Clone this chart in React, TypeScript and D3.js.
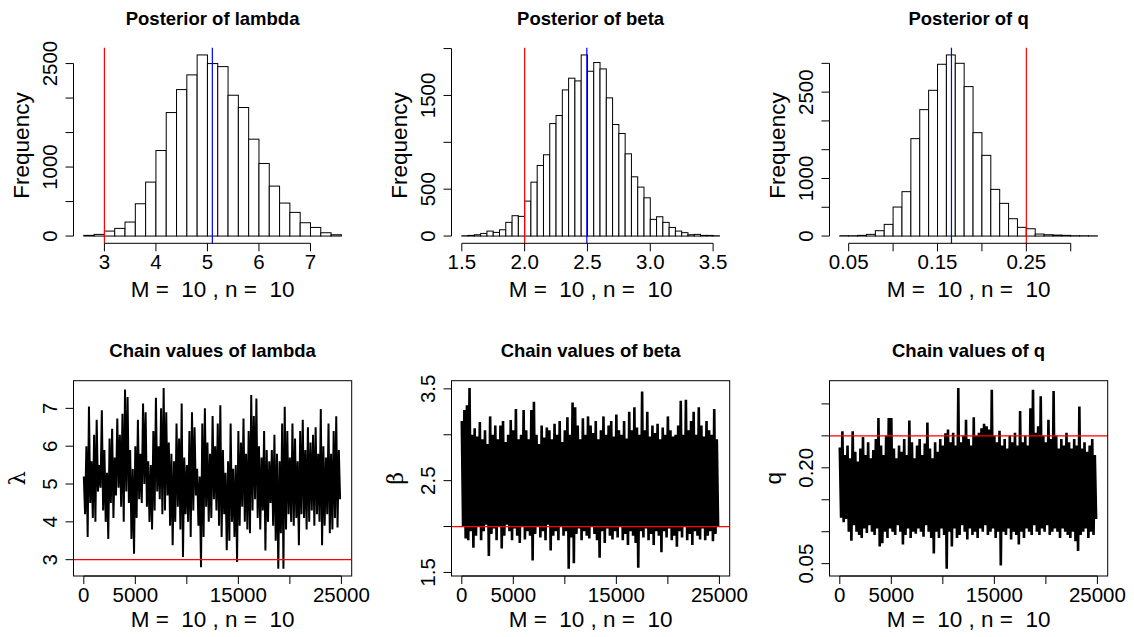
import React from 'react';
import * as d3 from 'd3';

// ---------- Histogram data ----------
const lambdaBreakStart = 2.6;
const lambdaBreakWidth = 0.2;
const lambdaCounts = [10, 24, 72, 111, 203, 468, 782, 1240, 1790, 2123, 2336, 2625, 2500, 2456, 2041, 1863, 1404, 1052, 724, 478, 343, 193, 125, 48, 19];

const betaBreakStart = 1.5;
const betaBreakWidth = 0.05;
const betaCounts = [3, 7, 14, 28, 53, 39, 67, 146, 217, 210, 373, 575, 753, 867, 1200, 1286, 1559, 1684, 1655, 1932, 1758, 1851, 1783, 1474, 1190, 1094, 877, 632, 522, 408, 178, 206, 146, 92, 53, 36, 14, 18, 7, 7, 3];

const qBreakStart = 0.04;
const qBreakWidth = 0.01;
const qCounts = [6, 6, 12, 29, 93, 203, 504, 771, 1692, 2196, 2532, 2984, 3146, 3001, 2596, 1796, 1402, 811, 568, 301, 151, 127, 35, 23, 17, 12, 6, 5, 4];

// true values (red) and posterior means (blue)
const trueValues = [3, 2, 0.25];
const posteriorMeans = [5.095, 2.495, 0.1657];

// axis ticks
const lambdaHistXTicks = [3, 4, 5, 6, 7];
const lambdaHistXLabels = ['3', '4', '5', '6', '7'];
const lambdaHistYTicks = [0, 500, 1000, 1500, 2000, 2500];
const lambdaHistYLabels = ['0', '', '1000', '', '', '2500'];

const betaHistXTicks = [1.5, 2.0, 2.5, 3.0, 3.5];
const betaHistXLabels = ['1.5', '2.0', '2.5', '3.0', '3.5'];
const betaHistYTicks = [0, 500, 1000, 1500, 2000];
const betaHistYLabels = ['0', '500', '', '1500', ''];

const qHistXTicks = [0.05, 0.1, 0.15, 0.2, 0.25, 0.3];
const qHistXLabels = ['0.05', '', '0.15', '', '0.25', ''];
const qHistYTicks = [0, 500, 1000, 1500, 2000, 2500, 3000];
const qHistYLabels = ['0', '', '1000', '', '', '2500', ''];

const iterTicks = [0, 5000, 10000, 15000, 20000, 25000];
const iterLabels = ['0', '5000', '', '15000', '', '25000'];

const lambdaTraceYTicks = [3, 4, 5, 6, 7];
const lambdaTraceYLabels = ['3', '4', '5', '6', '7'];
const betaTraceYTicks = [1.5, 2.0, 2.5, 3.0, 3.5];
const betaTraceYLabels = ['1.5', '', '2.5', '', '3.5'];
const qTraceYTicks = [0.05, 0.1, 0.15, 0.2, 0.25, 0.3];
const qTraceYLabels = ['0.05', '', '', '0.20', '', ''];

// ---------- Trace data: per 250-iteration block, local max and min ----------
const blockSize = 250;

const lambdaHigh = [
  5.2, 6.0, 7.05, 5.6, 6.3, 6.7, 5.5, 6.95, 5.9, 5.3,
  6.2, 6.46, 5.7, 6.73, 6.3, 6.86, 7.5, 7.3, 5.9, 5.4,
  6.0, 6.7, 5.8, 7.13, 6.9, 5.6, 5.5, 6.4, 7.28, 6.0,
  7.0, 7.54, 6.9, 6.1, 5.8, 5.6, 6.6, 6.2, 7.13, 5.7,
  5.5, 6.4, 6.9, 6.5, 5.4, 5.2, 6.6, 7.0, 6.1, 5.8,
  6.8, 6.0, 6.6, 7.08, 5.9, 5.3, 5.6, 6.6, 5.4, 5.5,
  6.4, 6.1, 6.73, 5.8, 6.4, 7.35, 6.8, 7.26, 6.0, 5.7,
  6.4, 5.9, 5.6, 5.9, 6.3, 5.8, 5.6, 6.6, 7.04, 6.4,
  5.7, 6.6, 6.2, 5.6, 6.4, 6.7, 5.9, 6.5, 6.1, 6.3,
  6.5, 5.8, 6.98, 6.0, 5.7, 6.6, 5.8, 6.4, 6.79, 5.9,
];
const lambdaLow = [
  4.2, 3.6, 4.5, 4.1, 4.0, 4.8, 4.9, 4.3, 4.0, 3.55,
  4.5, 4.1, 4.7, 4.9, 4.4, 4.0, 4.8, 4.5, 3.55, 3.16,
  4.1, 4.6, 4.5, 5.0, 4.4, 4.0, 3.8, 4.3, 4.8, 4.6,
  4.2, 4.3, 4.7, 3.9, 3.38, 4.0, 4.4, 3.8, 3.07, 4.2,
  4.0, 3.6, 4.3, 4.7, 3.9, 2.8, 3.6, 4.4, 4.0, 4.1,
  4.6, 4.3, 3.9, 3.6, 4.2, 3.25, 3.5, 4.0, 3.6, 2.94,
  3.9, 4.4, 4.0, 3.8, 3.7, 4.3, 4.6, 4.1, 3.8, 4.3,
  3.24, 4.0, 4.5, 3.9, 3.5, 2.76, 3.7, 2.76, 3.8, 4.2,
  4.0, 3.9, 4.1, 3.38, 4.2, 4.1, 3.8, 4.0, 4.3, 3.9,
  4.2, 4.0, 3.38, 3.9, 4.2, 3.7, 3.8, 4.1, 3.85, 4.6,
];

const betaHigh = [
  3.15, 3.27, 3.32, 3.51, 3.0, 3.07, 2.98, 3.14, 2.95, 3.05,
  2.9, 3.2, 3.0, 3.1, 2.95, 3.1, 3.15, 2.92, 3.0, 3.16,
  3.05, 3.28, 2.95, 3.0, 3.27, 3.05, 2.95, 3.27, 3.36, 3.0,
  2.9, 3.1, 2.97, 3.08, 3.05, 2.95, 3.12, 3.0, 3.15, 2.92,
  3.05, 3.19, 3.0, 3.35, 3.3, 3.1, 2.95, 3.18, 3.0, 3.2,
  3.1, 3.02, 3.15, 2.95, 3.05, 3.2, 3.0, 3.1, 3.15, 2.98,
  3.22, 3.05, 3.0, 3.15, 2.96, 3.25, 3.05, 3.3, 3.08, 3.0,
  3.47, 3.05, 3.25, 2.98, 3.1, 3.02, 3.12, 2.95, 3.08, 3.0,
  3.2, 3.05, 2.98, 3.0, 3.1, 3.37, 3.0, 3.38, 3.05, 3.15,
  3.25, 3.0, 3.3, 3.1, 2.98, 3.15, 3.05, 3.0, 3.28, 2.95,
];
const betaLow = [
  2.0, 1.87, 1.85, 1.95, 1.77, 1.9, 2.0, 1.85, 1.95, 2.02,
  1.68, 1.92, 1.98, 1.85, 2.0, 1.76, 1.9, 2.02, 1.95, 1.85,
  1.98, 1.9, 1.82, 2.0, 1.86, 1.95, 1.9, 1.63, 1.92, 2.0,
  1.88, 1.95, 1.85, 2.02, 1.74, 1.9, 1.95, 1.85, 2.0, 1.9,
  1.95, 1.54, 1.88, 1.6, 1.92, 1.98, 1.85, 1.95, 1.9, 1.87,
  2.0, 1.92, 1.85, 1.66, 1.95, 1.82, 1.98, 1.9, 1.86, 1.95,
  1.88, 2.0, 1.85, 1.92, 1.8, 1.95, 1.9, 1.82, 1.55, 1.95,
  1.88, 1.98, 1.85, 1.92, 1.8, 1.95, 1.9, 1.72, 1.95, 1.88,
  1.98, 1.85, 1.9, 1.78, 1.95, 1.88, 2.0, 1.85, 1.92, 1.8,
  1.95, 1.9, 1.86, 1.98, 1.85, 1.9, 1.95, 1.84, 1.92, 2.0,
];

const qHigh = [
  0.232, 0.257, 0.22, 0.235, 0.215, 0.257, 0.225, 0.21, 0.23, 0.248,
  0.22, 0.24, 0.215, 0.228, 0.245, 0.278, 0.235, 0.22, 0.25, 0.278,
  0.278, 0.23, 0.215, 0.235, 0.225, 0.245, 0.22, 0.274, 0.24, 0.215,
  0.235, 0.245, 0.22, 0.238, 0.271, 0.23, 0.215, 0.24, 0.225, 0.245,
  0.235, 0.254, 0.26, 0.24, 0.255, 0.235, 0.325, 0.24, 0.25, 0.275,
  0.245, 0.235, 0.279, 0.25, 0.255, 0.262, 0.269, 0.265, 0.26, 0.322,
  0.25, 0.24, 0.258, 0.235, 0.245, 0.23, 0.25, 0.24, 0.255, 0.235,
  0.289, 0.24, 0.25, 0.235, 0.293, 0.322, 0.255, 0.265, 0.312, 0.25,
  0.24, 0.275, 0.245, 0.32, 0.25, 0.23, 0.245, 0.235, 0.255, 0.24,
  0.23, 0.245, 0.235, 0.296, 0.23, 0.24, 0.225, 0.235, 0.245, 0.22,
];
const qLow = [
  0.122, 0.115, 0.12, 0.1, 0.086, 0.11, 0.1, 0.095, 0.09, 0.105,
  0.098, 0.11, 0.1, 0.095, 0.105, 0.077, 0.082, 0.1, 0.09, 0.105,
  0.1, 0.095, 0.11, 0.1, 0.08, 0.095, 0.105, 0.09, 0.1, 0.097,
  0.105, 0.1, 0.092, 0.11, 0.1, 0.09, 0.066, 0.1, 0.09, 0.105,
  0.095, 0.042, 0.1, 0.077, 0.105, 0.09, 0.095, 0.11, 0.1, 0.088,
  0.105, 0.095, 0.1, 0.09, 0.105, 0.1, 0.11, 0.095, 0.1, 0.105,
  0.09, 0.1, 0.047, 0.1, 0.095, 0.105, 0.088, 0.1, 0.095, 0.08,
  0.1, 0.09, 0.105, 0.1, 0.095, 0.11, 0.1, 0.095, 0.105, 0.1,
  0.11, 0.095, 0.1, 0.105, 0.1, 0.09, 0.105, 0.1, 0.095, 0.09,
  0.1, 0.085, 0.07, 0.095, 0.1, 0.105, 0.09, 0.1, 0.095, 0.12,
];

// ---------- layout ----------
const W = 1134;
const H = 637;
const colOffsets = [0, 378, 756];
const plotL = 73.5;
const plotR = 351.7;
const rowTop = [47.7, 380.7];
const rowBottom = [243.3, 576];
const titleBase = [25, 356.7];
const xlabBase = [296.7, 626.7];
const FONT = '"Liberation Sans", Arial, Helvetica, sans-serif';
const tickFont = 20.5;
const labFont = 22.5;
const titleFont = 18.5;
const tickLen = 8;
const xlabText = 'M =  10 , n =  10';
const traceWidths = [2.0, 2.6, 2.6];

type AxisProps = {
  ticks: number[];
  labels: string[];
  scale: (v: number) => number;
};

function XAxis({ ticks, labels, scale, y }: AxisProps & { y: number }) {
  const x0 = scale(ticks[0]);
  const x1 = scale(ticks[ticks.length - 1]);
  return (
    <g>
      <line x1={x0} x2={x1} y1={y} y2={y} stroke="#000" strokeWidth={1} />
      {ticks.map((t, i) => (
        <g key={i}>
          <line x1={scale(t)} x2={scale(t)} y1={y} y2={y + tickLen} stroke="#000" strokeWidth={1} />
          {labels[i] ? (
            <text x={scale(t)} y={y + 26} textAnchor="middle" fontSize={tickFont} fontFamily={FONT}>
              {labels[i]}
            </text>
          ) : null}
        </g>
      ))}
    </g>
  );
}

function YAxis({ ticks, labels, scale, x, labelX }: AxisProps & { x: number; labelX: number }) {
  const y0 = scale(ticks[0]);
  const y1 = scale(ticks[ticks.length - 1]);
  return (
    <g>
      <line x1={x} x2={x} y1={y0} y2={y1} stroke="#000" strokeWidth={1} />
      {ticks.map((t, i) => (
        <g key={i}>
          <line x1={x - tickLen} x2={x} y1={scale(t)} y2={scale(t)} stroke="#000" strokeWidth={1} />
          {labels[i] ? (
            <text
              transform={`translate(${labelX},${scale(t)}) rotate(-90)`}
              textAnchor="middle"
              fontSize={tickFont}
              fontFamily={FONT}
            >
              {labels[i]}
            </text>
          ) : null}
        </g>
      ))}
    </g>
  );
}

type HistProps = {
  col: number;
  title: string;
  start: number;
  width: number;
  counts: number[];
  xTicks: number[];
  xLabels: string[];
  yTicks: number[];
  yLabels: string[];
  red: number;
  blue: number;
};

function Histogram(p: HistProps) {
  const off = colOffsets[p.col];
  const top = rowTop[0];
  const bottom = rowBottom[0];
  const end = p.start + p.width * p.counts.length;
  const xr = end - p.start;
  const x = d3.scaleLinear().domain([p.start - 0.04 * xr, end + 0.04 * xr]).range([off + plotL, off + plotR]);
  const maxC = d3.max(p.counts) as number;
  const y = d3.scaleLinear().domain([-0.04 * maxC, maxC * 1.04]).range([bottom, top]);
  const cx = off + (plotL + plotR) / 2;
  return (
    <g>
      <text x={cx} y={titleBase[0]} textAnchor="middle" fontWeight="bold" fontSize={titleFont} fontFamily={FONT}>
        {p.title}
      </text>
      {p.counts.map((c, i) => {
        const x0 = x(p.start + i * p.width);
        const x1 = x(p.start + (i + 1) * p.width);
        return (
          <rect
            key={i}
            x={x0}
            y={y(c)}
            width={x1 - x0}
            height={y(0) - y(c)}
            fill="#fff"
            stroke="#000"
            strokeWidth={1}
          />
        );
      })}
      <line x1={x(p.red)} x2={x(p.red)} y1={top} y2={bottom} stroke="#ff0000" strokeWidth={1.2} />
      <line x1={x(p.blue)} x2={x(p.blue)} y1={top} y2={bottom} stroke="#0000ff" strokeWidth={1.2} />
      <XAxis ticks={p.xTicks} labels={p.xLabels} scale={x} y={bottom} />
      <YAxis ticks={p.yTicks} labels={p.yLabels} scale={y} x={off + plotL} labelX={off + 56.5} />
      <text
        transform={`translate(${off + 29.3},${(top + bottom) / 2}) rotate(-90)`}
        textAnchor="middle"
        fontSize={labFont}
        fontFamily={FONT}
      >
        Frequency
      </text>
      <text
        x={cx}
        y={xlabBase[0]}
        textAnchor="middle"
        fontSize={labFont}
        fontFamily={FONT}
        style={{ whiteSpace: 'pre' }}
      >
        {xlabText}
      </text>
    </g>
  );
}

type TraceProps = {
  col: number;
  title: string;
  high: number[];
  low: number[];
  yTicks: number[];
  yLabels: string[];
  red: number;
  ylab: string;
  ylabSerif: boolean;
};

function Trace(p: TraceProps) {
  const off = colOffsets[p.col];
  const top = rowTop[1];
  const bottom = rowBottom[1];
  const n = p.high.length * blockSize;
  const x = d3.scaleLinear().domain([-0.04 * n, n * 1.04]).range([off + plotL, off + plotR]);
  const lo = d3.min(p.low) as number;
  const hi = d3.max(p.high) as number;
  const r = hi - lo;
  const y = d3.scaleLinear().domain([lo - 0.04 * r, hi + 0.04 * r]).range([bottom, top]);
  const pts: [number, number][] = [];
  p.high.forEach((h, i) => {
    pts.push([i * blockSize, h]);
    pts.push([i * blockSize + blockSize / 2, p.low[i]]);
  });
  const line = d3
    .line<[number, number]>()
    .x((d) => x(d[0]))
    .y((d) => y(d[1]));
  const cx = off + (plotL + plotR) / 2;
  return (
    <g>
      <text x={cx} y={titleBase[1]} textAnchor="middle" fontWeight="bold" fontSize={titleFont} fontFamily={FONT}>
        {p.title}
      </text>
      <path
        d={line(pts) || ''}
        fill="none"
        stroke="#000"
        strokeWidth={traceWidths[p.col]}
        strokeLinejoin="bevel"
      />
      <line x1={off + plotL} x2={off + plotR} y1={y(p.red)} y2={y(p.red)} stroke="#ff0000" strokeWidth={1.2} />
      <rect x={off + plotL} y={top} width={plotR - plotL} height={bottom - top} fill="none" stroke="#000" strokeWidth={1} />
      <XAxis ticks={iterTicks} labels={iterLabels} scale={x} y={bottom} />
      <YAxis ticks={p.yTicks} labels={p.yLabels} scale={y} x={off + plotL} labelX={off + 56.5} />
      <text
        transform={`translate(${off + 24.5},${(top + bottom) / 2}) rotate(-90)`}
        textAnchor="middle"
        fontSize={labFont}
        fontFamily={p.ylabSerif ? '"DejaVu Serif", "Liberation Serif", serif' : FONT}
      >
        {p.ylab}
      </text>
      <text
        x={cx}
        y={xlabBase[1]}
        textAnchor="middle"
        fontSize={labFont}
        fontFamily={FONT}
        style={{ whiteSpace: 'pre' }}
      >
        {xlabText}
      </text>
    </g>
  );
}

export default function App() {
  return (
    <svg
      width={W}
      height={H}
      viewBox={`0 0 ${W} ${H}`}
      style={{ position: 'absolute', left: 0, top: 0, background: '#fff' }}
    >
      <rect x={0} y={0} width={W} height={H} fill="#fff" />
      <Histogram
        col={0}
        title="Posterior of lambda"
        start={lambdaBreakStart}
        width={lambdaBreakWidth}
        counts={lambdaCounts}
        xTicks={lambdaHistXTicks}
        xLabels={lambdaHistXLabels}
        yTicks={lambdaHistYTicks}
        yLabels={lambdaHistYLabels}
        red={trueValues[0]}
        blue={posteriorMeans[0]}
      />
      <Histogram
        col={1}
        title="Posterior of beta"
        start={betaBreakStart}
        width={betaBreakWidth}
        counts={betaCounts}
        xTicks={betaHistXTicks}
        xLabels={betaHistXLabels}
        yTicks={betaHistYTicks}
        yLabels={betaHistYLabels}
        red={trueValues[1]}
        blue={posteriorMeans[1]}
      />
      <Histogram
        col={2}
        title="Posterior of q"
        start={qBreakStart}
        width={qBreakWidth}
        counts={qCounts}
        xTicks={qHistXTicks}
        xLabels={qHistXLabels}
        yTicks={qHistYTicks}
        yLabels={qHistYLabels}
        red={trueValues[2]}
        blue={posteriorMeans[2]}
      />
      <Trace
        col={0}
        title="Chain values of lambda"
        high={lambdaHigh}
        low={lambdaLow}
        yTicks={lambdaTraceYTicks}
        yLabels={lambdaTraceYLabels}
        red={trueValues[0]}
        ylab="λ"
        ylabSerif={true}
      />
      <Trace
        col={1}
        title="Chain values of beta"
        high={betaHigh}
        low={betaLow}
        yTicks={betaTraceYTicks}
        yLabels={betaTraceYLabels}
        red={trueValues[1]}
        ylab="β"
        ylabSerif={true}
      />
      <Trace
        col={2}
        title="Chain values of q"
        high={qHigh}
        low={qLow}
        yTicks={qTraceYTicks}
        yLabels={qTraceYLabels}
        red={trueValues[2]}
        ylab="q"
        ylabSerif={false}
      />
    </svg>
  );
}
